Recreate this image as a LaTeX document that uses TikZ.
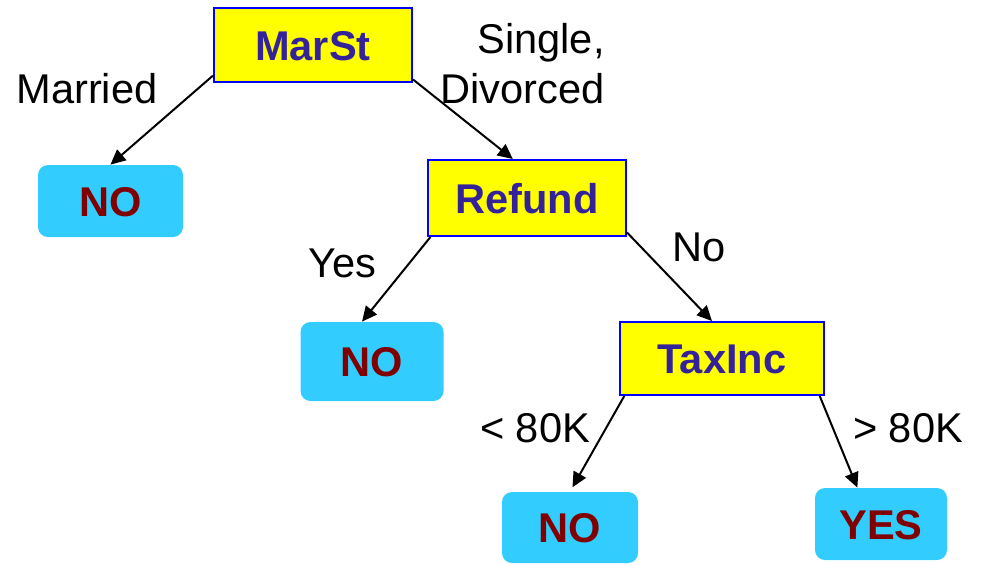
\documentclass[tikz,border=0pt]{standalone}
\usepackage{fontspec}
\setmainfont{Liberation Sans}
\usepackage{tikz}
\usepackage{xcolor}
\definecolor{testfill}{RGB}{255, 255, 0}
\definecolor{testedge}{RGB}{0, 0, 255}
\definecolor{testtext}{RGB}{51, 34, 153}
\definecolor{leaffill}{RGB}{51, 204, 255}
\definecolor{leaftext}{RGB}{128, 0, 0}
\usetikzlibrary{arrows.meta}
\newcommand{\attr}[1]{\textbf{\textcolor{testtext}{#1}}}
\newcommand{\leaf}[1]{\textbf{\textcolor{leaftext}{#1}}}

\begin{document}
\begin{tikzpicture}[x=0.5pt, y=-0.5pt,
    font=\fontsize{20.8}{25}\selectfont,
    test/.style={draw=testedge, fill=testfill, line width=1pt, inner sep=0pt,
        minimum width=99pt, minimum height=37pt, text height=15pt, text depth=0pt},
    leafbox/.style={fill=leaffill, rounded corners=5pt, inner sep=0pt,
        text height=15pt, text depth=0pt},
    branch/.style={-{Triangle[length=7.5pt, width=7pt]}, line width=1pt},
    lbl/.style={anchor=base, inner sep=0pt}]
                \useasboundingbox (0,0) rectangle (981,564);
                \node[test] (marst) at (313,45) {\attr{MarSt}};
                \node[test, minimum height=38pt] (refund) at (527,198) {\attr{Refund}};
                \node[test, minimum width=102pt, minimum height=36.5pt] (taxinc) at (722,358.5) {\attr{TaxInc}};
                \node[leafbox, minimum width=72.5pt, minimum height=36pt] (nomar) at (110.5,201) {\leaf{NO}};
                \node[leafbox, minimum width=71.5pt, minimum height=39.5pt] (norefund) at (372,361.5) {\leaf{NO}};
                \node[leafbox, minimum width=68pt, minimum height=35.5pt] (nolow) at (570,527.5) {\leaf{NO}};
                \node[leafbox, minimum width=66pt, minimum height=36pt] (yeshigh) at (881,524) {\leaf{YES}};
                \node[lbl] (married) at (87,103) {Married};
                \node[lbl, anchor=base east] (single) at (605,53) {Single,};
                \node[lbl, anchor=base east] (divorced) at (605,103) {Divorced};
                \node[lbl] (yes) at (342,277) {Yes};
                \node[lbl] (no) at (699,261) {No};
                \node[lbl] (low) at (535,442) {\textless{} 80K};
                \node[lbl] (high) at (908,442) {\textgreater{} 80K};
                \draw[branch] (marst.-163) -- (nomar.north);
                \draw[branch] (marst.-19) -- (refund.110);
                \draw[branch] (refund.-158) -- (norefund.104);
                \draw[branch] (refund.-19) -- (taxinc.105);
                \draw[branch, shorten >=2.5pt] (taxinc.-159) -- (nolow.north);
                \draw[branch] (taxinc.-21) -- (yeshigh.123);
            \end{tikzpicture}
\end{document}
